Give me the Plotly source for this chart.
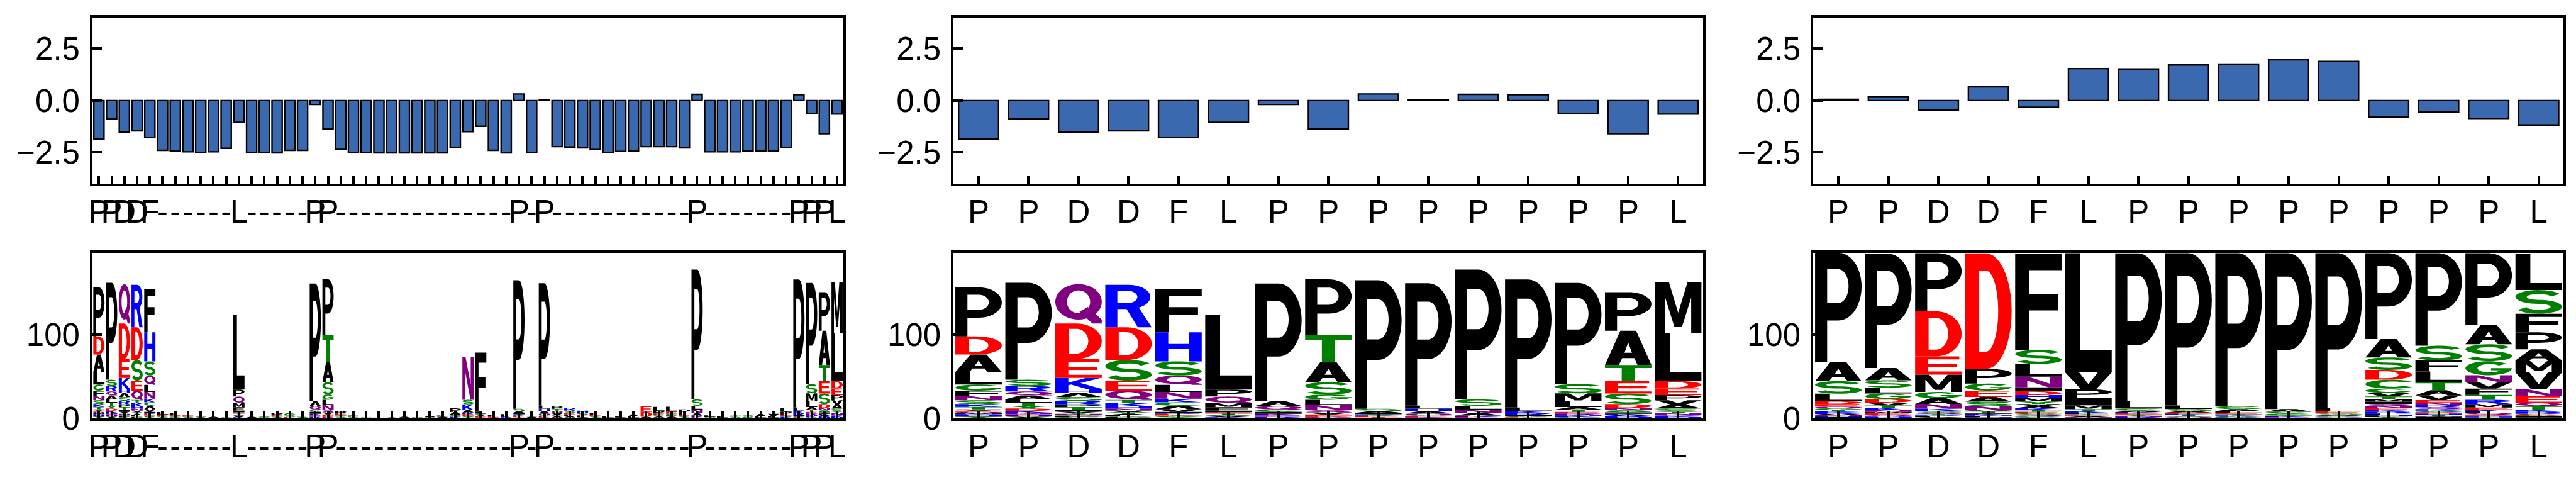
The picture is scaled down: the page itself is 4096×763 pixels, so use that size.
import math
import plotly.graph_objects as go

# ---------------------------------------------------------------- data
ALIGN_SEQ = ("PPDDF" + "-" * 6 + "L" + "-" * 5 + "PP" + "-" * 14 + "P" + "-" + "P"
             + "-" * 11 + "P" + "-" * 7 + "PPP" + "L")
ALIGN_LABELS = list(ALIGN_SEQ)          # 59 alignment columns

ALIGN_SCORES = [-1.86, -0.89, -1.52, -1.46, -1.79, -2.40, -2.42, -2.47, -2.50, -2.47,
                -2.30, -1.05, -2.50, -2.50, -2.52, -2.40, -2.40, -0.19, -1.36, -2.35,
                -2.50, -2.50, -2.52, -2.52, -2.52, -2.52, -2.52, -2.52, -2.25, -1.50,
                -1.24, -2.40, -2.52, 0.32, -2.50, 0.02, -2.22, -2.24, -2.28, -2.36,
                -2.50, -2.45, -2.42, -2.22, -2.22, -2.22, -2.28, 0.30, -2.47, -2.47,
                -2.47, -2.42, -2.42, -2.42, -2.26, 0.28, -0.63, -1.60, -0.65]

MOTIF_IDX = [0, 1, 2, 3, 4, 11, 17, 18, 33, 35, 47, 55, 56, 57, 58]
MOTIF_LABELS = ["P", "P", "D", "D", "F", "L", "P", "P", "P", "P", "P", "P", "P", "P", "L"]
MOTIF_SCORES = [-1.86, -0.89, -1.52, -1.46, -1.79, -1.05, -0.19, -1.36,
                0.32, 0.02, 0.30, 0.28, -0.63, -1.60, -0.65]
VARIANT_SCORES = [0.06, 0.19, -0.46, 0.66, -0.32, 1.54, 1.52, 1.72, 1.76, 1.97,
                  1.89, -0.80, -0.54, -0.86, -1.18]

# letter stacks, listed top -> bottom (counts)
MOTIF_LOGO = [
    [("P", 58.8), ("D", 21.6), ("A", 21.0), ("L", 15.0), ("G", 7.3), ("F", 6.2), ("N", 5.2),
     ("S", 4.5), ("K", 3.5), ("T", 3.0), ("V", 1.5), ("E", 1.5), ("Q", 1.5), ("M", 1.2),
     ("R", 1.2), ("H", 1.0), ("I", 1.0), ("Y", 1.0), ("W", 0.8)],
    [("P", 116.0), ("S", 7.3), ("R", 6.7), ("Q", 4.8), ("A", 4.5), ("L", 4.0), ("T", 3.8),
     ("Y", 3.2), ("D", 3.0), ("K", 2.2), ("N", 1.7), ("E", 1.2), ("H", 1.0), ("G", 1.0),
     ("V", 1.0), ("F", 0.8)],
    [("Q", 47.1), ("D", 42.4), ("E", 22.8), ("K", 13.1), ("H", 5.1), ("A", 4.6), ("S", 4.5),
     ("R", 4.2), ("P", 3.2), ("T", 3.0), ("I", 2.5), ("V", 1.5), ("Y", 1.2), ("N", 1.2),
     ("G", 1.0), ("L", 1.0), ("F", 0.8), ("C", 0.8), ("M", 0.6)],
    [("R", 50.8), ("D", 39.1), ("S", 24.8), ("E", 11.8), ("Q", 11.1), ("T", 3.9), ("K", 3.8),
     ("H", 2.5), ("N", 2.4), ("V", 2.2), ("Y", 2.0), ("A", 1.5), ("L", 1.2), ("G", 1.0),
     ("P", 0.8), ("M", 0.8)],
    [("F", 52.1), ("H", 34.7), ("S", 16.9), ("Q", 11.3), ("L", 8.4), ("N", 8.1), ("K", 4.3),
     ("C", 4.1), ("A", 3.9), ("V", 3.4), ("I", 1.2), ("R", 1.2), ("E", 1.0), ("D", 1.0),
     ("T", 1.0), ("G", 1.0), ("Y", 0.8), ("M", 0.6)],
    [("L", 89.0), ("P", 8.4), ("Q", 8.1), ("M", 4.7), ("F", 4.0), ("I", 2.0), ("E", 1.5),
     ("T", 1.2), ("A", 1.2), ("S", 1.0), ("V", 1.0), ("K", 0.8), ("D", 0.6)],
    [("P", 141.0), ("A", 5.4), ("Q", 4.7), ("S", 2.5), ("I", 2.2), ("K", 2.0), ("E", 1.7),
     ("R", 1.0), ("G", 0.8)],
    [("P", 66.4), ("T", 32.4), ("A", 24.3), ("S", 14.7), ("G", 6.4), ("L", 6.3), ("N", 6.2),
     ("Q", 2.5), ("V", 2.4), ("E", 1.8), ("K", 1.2), ("D", 1.0), ("R", 0.8)],
    [("P", 153.8), ("S", 2.9), ("A", 2.0), ("I", 1.7), ("G", 1.3), ("K", 1.2), ("E", 1.0),
     ("T", 0.8), ("R", 0.6)],
    [("P", 146.3), ("L", 3.7), ("H", 3.0), ("A", 2.5), ("Q", 2.5), ("S", 1.2), ("E", 1.0),
     ("K", 0.8), ("G", 0.6)],
    [("P", 155.4), ("S", 7.6), ("L", 4.5), ("N", 4.3), ("A", 3.0), ("K", 1.7), ("E", 1.0),
     ("T", 0.6)],
    [("P", 153.2), ("L", 4.2), ("K", 2.5), ("R", 2.0), ("I", 1.8), ("G", 1.0), ("E", 0.8),
     ("A", 0.6)],
    [("P", 121.1), ("S", 11.1), ("M", 9.6), ("L", 6.7), ("A", 3.0), ("T", 2.9), ("E", 1.9),
     ("R", 1.7), ("N", 1.7), ("K", 1.0), ("G", 0.8), ("D", 0.6)],
    [("P", 46.2), ("A", 41.0), ("T", 19.4), ("E", 14.7), ("S", 12.6), ("D", 4.7), ("N", 2.7),
     ("G", 2.5), ("I", 1.7), ("K", 1.7), ("V", 1.2), ("R", 1.0), ("H", 0.8), ("Q", 0.8)],
    [("M", 61.1), ("L", 57.1), ("D", 8.9), ("E", 8.0), ("P", 6.2), ("V", 5.0), ("A", 4.8),
     ("S", 2.2), ("G", 1.8), ("T", 1.7), ("N", 1.7), ("R", 1.0), ("Q", 1.0), ("K", 0.8),
     ("H", 0.8), ("W", 0.8)],
]

GAP_LOGO = {
    5: [("L", 3.0), ("E", 2.0), ("S", 1.5), ("A", 1.0)],
    6: [("L", 2.5), ("E", 1.5), ("G", 1.2), ("K", 0.8)],
    7: [("E", 1.5), ("S", 1.2), ("G", 0.8)],
    8: [("S", 1.0), ("A", 0.8), ("E", 0.6)],
    9: [("A", 1.0), ("S", 0.8)],
    10: [("S", 0.8), ("G", 0.6)],
    12: [("A", 1.0), ("S", 0.8)],
    13: [("S", 1.0), ("G", 0.8), ("E", 0.5)],
    14: [("P", 3.0), ("E", 1.5), ("S", 1.2), ("A", 0.8)],
    15: [("G", 2.5), ("S", 2.0), ("E", 1.0), ("K", 0.6)],
    16: [("S", 1.2), ("E", 0.8)],
    19: [("P", 3.0), ("E", 2.0), ("T", 1.5), ("S", 1.2), ("K", 0.8)],
    20: [("P", 1.5), ("S", 1.0), ("H", 0.8)],
    21: [("S", 0.8), ("A", 0.6)],
    22: [("S", 0.6), ("E", 0.4)],
    23: [("A", 0.6), ("S", 0.5)],
    24: [("A", 1.2), ("S", 0.8)],
    25: [("S", 1.0), ("G", 0.6)],
    26: [("A", 1.5), ("S", 1.0), ("K", 0.6)],
    27: [("L", 1.5), ("A", 1.0), ("S", 0.8)],
    28: [("P", 4.5), ("A", 3.0), ("G", 1.5), ("S", 1.2), ("K", 1.0), ("R", 0.8)],
    29: [("N", 51.2), ("S", 5.4), ("K", 6.8), ("A", 3.0), ("R", 2.0), ("E", 2.0), ("G", 1.5),
         ("T", 1.5)],
    30: [("F", 71.0), ("L", 2.0), ("S", 2.0), ("A", 1.5), ("E", 1.2), ("K", 1.0)],
    31: [("L", 2.0), ("E", 1.5), ("A", 1.0)],
    32: [("L", 2.5), ("K", 1.5), ("E", 1.0)],
    34: [("S", 1.2), ("A", 1.0), ("K", 0.8)],
    36: [("P", 3.0), ("T", 2.8), ("Q", 2.5), ("V", 2.2), ("S", 1.5), ("A", 1.5), ("E", 1.0)],
    37: [("R", 3.5), ("S", 2.5), ("E", 2.0), ("L", 2.0), ("A", 1.5), ("G", 1.2)],
    38: [("H", 3.0), ("S", 2.0), ("E", 1.5), ("L", 1.5), ("A", 1.2)],
    39: [("L", 2.5), ("E", 1.5), ("S", 1.2), ("A", 1.0)],
    40: [("L", 1.5), ("S", 0.8)],
    41: [("L", 2.0), ("A", 1.0)],
    42: [("A", 2.5), ("L", 1.5), ("S", 0.8)],
    43: [("E", 7.0), ("D", 6.0), ("A", 1.0), ("S", 0.8)],
    44: [("L", 5.0), ("P", 3.0), ("E", 2.0), ("S", 1.5), ("A", 1.2), ("T", 1.0)],
    45: [("L", 6.0), ("E", 2.5), ("S", 2.0), ("P", 1.5), ("A", 1.2), ("K", 0.8)],
    46: [("P", 4.5), ("L", 2.5), ("E", 1.5), ("S", 1.2), ("A", 1.0)],
    48: [("L", 2.0), ("S", 1.0), ("A", 0.6)],
    49: [("L", 1.5), ("S", 0.8)],
    50: [("T", 2.0), ("S", 1.2), ("G", 0.8)],
    51: [("S", 2.0), ("G", 1.0), ("A", 0.6)],
    52: [("A", 3.0), ("L", 1.5), ("S", 0.8)],
    53: [("V", 3.0), ("L", 1.5), ("A", 1.0)],
    54: [("L", 4.0), ("P", 3.5), ("E", 1.5), ("S", 1.2), ("K", 1.0), ("A", 0.8)],
}

VARIANT_LOGO = [
    [("P", 130.8), ("A", 22.8), ("S", 15.0), ("L", 9.0), ("D", 3.4), ("E", 3.0), ("Q", 2.0),
     ("G", 2.0), ("T", 1.8), ("K", 1.6), ("R", 1.5), ("V", 1.4), ("N", 1.2), ("H", 1.0),
     ("I", 0.8), ("M", 0.8)],
    [("P", 136.6), ("A", 14.6), ("S", 8.8), ("L", 7.0), ("G", 6.7), ("D", 4.2), ("V", 3.4),
     ("T", 2.7), ("K", 3.0), ("N", 2.0), ("M", 1.8), ("E", 1.6), ("Q", 1.4), ("R", 1.2),
     ("H", 1.0), ("I", 0.8)],
    [("P", 69.4), ("D", 53.9), ("E", 21.9), ("M", 20.7), ("G", 7.6), ("A", 6.7), ("N", 5.7),
     ("K", 2.5), ("S", 2.2), ("Q", 1.8), ("T", 1.5), ("R", 1.2), ("L", 1.0), ("V", 0.8),
     ("H", 0.6)],
    [("D", 138.2), ("P", 17.5), ("G", 8.4), ("E", 7.6), ("A", 5.6), ("S", 5.4), ("N", 5.0),
     ("V", 1.5), ("T", 1.5), ("I", 1.2), ("K", 1.2), ("M", 1.0), ("Q", 1.0), ("L", 0.8),
     ("H", 0.8), ("R", 0.6)],
    [("F", 114.8), ("S", 16.9), ("L", 15.2), ("N", 12.9), ("I", 4.6), ("D", 4.5), ("H", 3.9),
     ("M", 3.9), ("Y", 3.0), ("V", 2.5), ("A", 2.4), ("K", 2.2), ("T", 2.0), ("E", 1.8),
     ("G", 1.6), ("Q", 1.5), ("R", 1.3), ("C", 1.0), ("P", 0.8)],
    [("L", 142.6), ("V", 20.2), ("P", 10.6), ("I", 8.4), ("M", 4.5), ("T", 2.4), ("K", 2.2),
     ("F", 1.6), ("S", 1.4), ("E", 1.2), ("A", 1.0), ("N", 0.8), ("R", 0.6)],
    [("P", 176.8), ("L", 8.7), ("S", 2.5), ("A", 1.8), ("K", 1.5), ("E", 1.2), ("G", 1.2),
     ("T", 1.0), ("N", 1.0), ("R", 0.8), ("Q", 0.8)],
    [("P", 182.0), ("L", 4.2), ("S", 2.4), ("A", 2.0), ("E", 1.6), ("K", 1.4), ("T", 1.2),
     ("G", 1.0), ("Q", 0.9), ("R", 0.8)],
    [("P", 183.0), ("S", 3.4), ("A", 2.5), ("L", 2.0), ("E", 1.6), ("T", 1.4), ("K", 1.2),
     ("G", 1.0), ("R", 0.8), ("Q", 0.6)],
    [("P", 186.4), ("A", 3.2), ("G", 2.4), ("S", 2.0), ("T", 1.2), ("K", 1.0), ("E", 0.7),
     ("N", 0.6)],
    [("P", 185.5), ("L", 3.6), ("E", 2.0), ("S", 1.8), ("A", 1.4), ("K", 1.2), ("G", 0.8),
     ("Q", 0.7), ("N", 0.5)],
    [("P", 102.7), ("A", 21.9), ("S", 14.9), ("D", 11.8), ("C", 10.6), ("G", 5.0), ("V", 4.5),
     ("T", 3.4), ("M", 2.8), ("I", 2.6), ("Q", 2.5), ("N", 2.4), ("E", 2.4), ("K", 2.2),
     ("R", 2.0), ("L", 1.6), ("H", 1.4), ("F", 1.2), ("Y", 0.9), ("W", 0.7)],
    [("P", 110.6), ("S", 17.7), ("F", 13.2), ("L", 12.3), ("T", 10.1), ("A", 6.0), ("V", 5.8),
     ("E", 3.0), ("N", 2.8), ("R", 2.6), ("Q", 2.2), ("K", 2.0), ("G", 1.8), ("D", 1.6),
     ("H", 1.4), ("Y", 1.4), ("M", 1.2), ("I", 1.0), ("C", 0.8)],
    [("P", 85.4), ("A", 23.5), ("S", 20.2), ("G", 16.8), ("N", 8.4), ("V", 7.6), ("F", 7.5),
     ("T", 5.9), ("R", 5.0), ("M", 4.2), ("E", 2.6), ("K", 2.2), ("L", 2.0), ("Q", 1.6),
     ("D", 1.4), ("I", 1.2), ("H", 1.0), ("C", 1.0)],
    [("L", 43.6), ("S", 28.3), ("F", 22.3), ("P", 20.2), ("A", 13.5), ("M", 14.3), ("V", 20.2),
     ("N", 8.4), ("E", 7.6), ("Q", 4.2), ("T", 4.2), ("K", 2.6), ("R", 2.2), ("G", 1.8),
     ("D", 1.5), ("I", 1.2), ("H", 1.0)],
]

BAR_Y_TICKS = [-2.5, 0.0, 2.5]
BAR_Y_TEXT = ["\u22122.5", "0.0", "2.5"]
LOGO_Y_TICKS = [0, 100]
LOGO_Y_TEXT = ["0", "100"]

# ---------------------------------------------------------------- styles
BAR_COLOR = "#3a69b0"
LETTER_COLORS = {}
for grp, col in [("GSTYC", "#008000"), ("NQ", "#800080"), ("KRH", "#0000ff"),
                 ("DE", "#ff0000"), ("AVLIPWFM", "#000000")]:
    for ch in grp:
        LETTER_COLORS[ch] = col

FONT = dict(family="Liberation Sans, Arial, sans-serif", size=51, color="black")


# ---------------------------------------------------------------- glyph outlines
def arc(cx, cy, rx, ry, a0, a1, n=22):
    return [(cx + rx * math.cos(math.radians(a0 + (a1 - a0) * i / n)),
             cy + ry * math.sin(math.radians(a0 + (a1 - a0) * i / n))) for i in range(n + 1)]


def ring_area(r):
    s = 0.0
    for i in range(len(r)):
        x1, y1 = r[i]
        x2, y2 = r[(i + 1) % len(r)]
        s += x1 * y2 - x2 * y1
    return s / 2


def stroke(pts, hx, hy):
    left, right = [], []
    for i, (x, y) in enumerate(pts):
        xa, ya = pts[max(i - 1, 0)]
        xb, yb = pts[min(i + 1, len(pts) - 1)]
        tx, ty = xb - xa, yb - ya
        ln = math.hypot(tx, ty) or 1.0
        nx, ny = -ty / ln, tx / ln
        left.append((x + nx * hx, y + ny * hy))
        right.append((x - nx * hx, y - ny * hy))
    return left + right[::-1]


def raw_glyphs():
    g = {}
    g["P"] = [([(0, 0), (0, 1), (0.5, 1)] + arc(0.5, 0.69, 0.5, 0.31, 90, -90)[1:]
               + [(0.26, 0.38), (0.26, 0)], False),
              ([(0.26, 0.54), (0.26, 0.85), (0.5, 0.85)] + arc(0.5, 0.695, 0.22, 0.155, 90, -90)[1:], True)]
    g["R"] = [([(0, 0), (0, 1), (0.5, 1)] + arc(0.5, 0.715, 0.47, 0.285, 90, -90)[1:]
               + [(0.26, 0.43), (0.26, 0)], False),
              ([(0.26, 0.57), (0.26, 0.86), (0.48, 0.86)] + arc(0.48, 0.715, 0.21, 0.145, 90, -90)[1:], True),
              ([(0.42, 0.5), (0.7, 0.5), (1.0, 0), (0.7, 0)], False)]
    g["D"] = [([(0, 0), (0, 1), (0.45, 1)] + arc(0.45, 0.5, 0.55, 0.5, 90, -90)[1:], False),
              ([(0.29, 0.15), (0.29, 0.85), (0.45, 0.85)] + arc(0.45, 0.5, 0.26, 0.35, 90, -90)[1:], True)]
    g["Q"] = [(arc(0.5, 0.55, 0.5, 0.45, 0, 360, 44)[:-1], False),
              (arc(0.5, 0.55, 0.25, 0.29, 0, 360, 44)[:-1], True),
              ([(0.52, 0.3), (0.7, 0.42), (1.0, 0.1), (1.0, 0.0), (0.8, 0.0)], False)]
    g["C"] = [(arc(0.5, 0.5, 0.5, 0.5, 40, 320, 30) + arc(0.52, 0.5, 0.26, 0.3, 320, 40, 30), False)]
    g["G"] = [(arc(0.5, 0.5, 0.5, 0.5, 40, 360, 30) + [(0.55, 0.5), (0.55, 0.36)]
               + arc(0.52, 0.5, 0.26, 0.3, -30, -320, 30), False)]
    sc = arc(0.5, 0.725, 0.4, 0.225, 20, 270, 24) + arc(0.5, 0.275, 0.4, 0.225, 90, -160, 24)[1:]
    g["S"] = [(stroke(sc, 0.13, 0.09), False)]
    g["A"] = [([(0, 0), (0.33, 1), (0.67, 1), (1, 0), (0.7, 0), (0.63, 0.2), (0.37, 0.2), (0.3, 0)], False),
              ([(0.42, 0.36), (0.58, 0.36), (0.5, 0.66)], True)]
    g["E"] = [([(0, 0), (0, 1), (0.95, 1), (0.95, 0.83), (0.28, 0.83), (0.28, 0.59), (0.9, 0.59),
                (0.9, 0.42), (0.28, 0.42), (0.28, 0.17), (1, 0.17), (1, 0)], False)]
    g["F"] = [([(0, 0), (0, 1), (1, 1), (1, 0.83), (0.3, 0.83), (0.3, 0.58), (0.92, 0.58),
                (0.92, 0.41), (0.3, 0.41), (0.3, 0)], False)]
    g["H"] = [([(0, 0), (0, 1), (0.28, 1), (0.28, 0.6), (0.72, 0.6), (0.72, 1), (1, 1), (1, 0),
                (0.72, 0), (0.72, 0.42), (0.28, 0.42), (0.28, 0)], False)]
    g["I"] = [([(0, 0), (1, 0), (1, 1), (0, 1)], False)]
    g["K"] = [([(0, 0), (0, 1), (0.28, 1), (0.28, 0.58), (0.66, 1), (0.98, 1), (0.54, 0.54),
                (1, 0), (0.67, 0), (0.34, 0.4), (0.28, 0.34), (0.28, 0)], False)]
    g["L"] = [([(0, 0), (0, 1), (0.32, 1), (0.32, 0.19), (1, 0.19), (1, 0)], False)]
    g["M"] = [([(0, 0), (0, 1), (0.3, 1), (0.5, 0.4), (0.7, 1), (1, 1), (1, 0), (0.78, 0),
                (0.78, 0.7), (0.58, 0.12), (0.42, 0.12), (0.22, 0.7), (0.22, 0)], False)]
    g["N"] = [([(0, 0), (0, 1), (0.28, 1), (0.74, 0.36), (0.74, 1), (1, 1), (1, 0), (0.72, 0),
                (0.26, 0.64), (0.26, 0)], False)]
    g["T"] = [([(0, 1), (1, 1), (1, 0.82), (0.64, 0.82), (0.64, 0), (0.36, 0), (0.36, 0.82),
                (0, 0.82)], False)]
    g["V"] = [([(0, 1), (0.3, 1), (0.5, 0.3), (0.7, 1), (1, 1), (0.66, 0), (0.34, 0)], False)]
    g["W"] = [([(0, 1), (0.2, 1), (0.3, 0.35), (0.41, 1), (0.59, 1), (0.7, 0.35), (0.8, 1), (1, 1),
                (0.84, 0), (0.6, 0), (0.5, 0.55), (0.4, 0), (0.16, 0)], False)]
    g["Y"] = [([(0, 1), (0.3, 1), (0.5, 0.62), (0.7, 1), (1, 1), (0.64, 0.42), (0.64, 0),
                (0.36, 0), (0.36, 0.42)], False)]
    return g


def normalise(rings):
    xs = [p[0] for r, _ in rings for p in r]
    ys = [p[1] for r, _ in rings for p in r]
    x0, x1, y0, y1 = min(xs), max(xs), min(ys), max(ys)
    out = []
    for r, hole in rings:
        rr = [((x - x0) / (x1 - x0), (y - y0) / (y1 - y0)) for x, y in r]
        if (ring_area(rr) < 0) != hole:
            rr = rr[::-1]
        out.append(rr)
    return out


GLYPHS = {ch: normalise(r) for ch, r in raw_glyphs().items()}


def letter_shape(ch, x0, y0, w, h, xref, yref):
    parts = []
    for ring in GLYPHS[ch]:
        parts.append("M" + "L".join(f"{x0 + gx * w:.4f},{y0 + gy * h:.3f}" for gx, gy in ring) + "Z")
    return dict(type="path", path="".join(parts), xref=xref, yref=yref,
                fillcolor=LETTER_COLORS[ch], line=dict(width=0), layer="below",
                fillrule="nonzero")


def logo_shapes(columns, positions, width, xref, yref):
    shapes = []
    for pos, col in zip(positions, columns):
        y = 0.0
        for ch, hgt in reversed(col):
            shapes.append(letter_shape(ch, pos - width / 2, y, width, hgt, xref, yref))
            y += hgt
    return shapes


# ---------------------------------------------------------------- figure
W, H = 4096, 763
XD = [[0.03235, 0.32464], [0.36751, 0.65928], [0.70215, 0.99424]]
YD_TOP = [0.6134, 0.9727]
YD_BOT = [0.1049, 0.4633]

fig = go.Figure()

n_align = len(ALIGN_LABELS)
n_motif = len(MOTIF_LABELS)
align_x = list(range(n_align))
motif_x = list(range(n_motif))

bar_sets = [(align_x, ALIGN_SCORES), (motif_x, MOTIF_SCORES), (motif_x, VARIANT_SCORES)]
for k, (xs, ys) in enumerate(bar_sets):
    sfx = "" if k == 0 else str(k + 1)
    fig.add_trace(go.Bar(x=xs, y=ys, width=0.8, marker=dict(color=BAR_COLOR, line=dict(color="black", width=2.4)),
                         xaxis="x" + sfx, yaxis="y" + sfx, showlegend=False, hoverinfo="skip"))

for k, xs in enumerate([align_x, motif_x, motif_x]):
    sfx = str(k + 4)
    fig.add_trace(go.Scatter(x=xs, y=[0] * len(xs), mode="markers", marker=dict(opacity=0),
                             xaxis="x" + sfx, yaxis="y" + sfx, showlegend=False, hoverinfo="skip"))

# logo columns
align_cols = []
for i in range(n_align):
    if i in MOTIF_IDX:
        align_cols.append(MOTIF_LOGO[MOTIF_IDX.index(i)])
    else:
        align_cols.append(GAP_LOGO.get(i, []))

shapes = []
shapes += logo_shapes(align_cols, align_x, 0.88, "x4", "y4")
shapes += logo_shapes(MOTIF_LOGO, motif_x, 0.93, "x5", "y5")
shapes += logo_shapes(VARIANT_LOGO, motif_x, 0.93, "x6", "y6")


def xaxis(domain, anchor, labels):
    n = len(labels)
    return dict(domain=domain, anchor=anchor, range=[-0.5, n - 0.5], tickmode="array",
                tickvals=list(range(n)), ticktext=labels, ticks="inside", ticklen=12,
                tickwidth=3.5, tickcolor="black", showline=True, linecolor="black",
                linewidth=4, mirror=True, showgrid=False, zeroline=False, tickangle=0,
                tickfont=FONT, ticklabelstandoff=-3, fixedrange=True)


def yaxis(domain, anchor, rng, vals, text):
    return dict(domain=domain, anchor=anchor, range=rng, tickmode="array", tickvals=vals,
                ticktext=text, ticks="inside", ticklen=15, tickwidth=4, tickcolor="black",
                showline=True, linecolor="black", linewidth=4, mirror=True, showgrid=False,
                zeroline=False, tickfont=FONT, ticklabelstandoff=6, fixedrange=True)


layout = dict(width=W, height=H, margin=dict(l=0, r=0, t=0, b=0), paper_bgcolor="white",
              plot_bgcolor="white", showlegend=False, bargap=0.2, shapes=shapes)
label_sets = [ALIGN_LABELS, MOTIF_LABELS, MOTIF_LABELS]
for k in range(3):
    top = "" if k == 0 else str(k + 1)
    bot = str(k + 4)
    layout["xaxis" + top] = xaxis(XD[k], "y" + top, label_sets[k])
    layout["yaxis" + top] = yaxis(YD_TOP, "x" + top, [-4, 4], BAR_Y_TICKS, BAR_Y_TEXT)
    layout["xaxis" + bot] = xaxis(XD[k], "y" + bot, label_sets[k])
    layout["yaxis" + bot] = yaxis(YD_BOT, "x" + bot, [0, 198], LOGO_Y_TICKS, LOGO_Y_TEXT)

fig.update_layout(**layout)
fig.write_html("out.html")
